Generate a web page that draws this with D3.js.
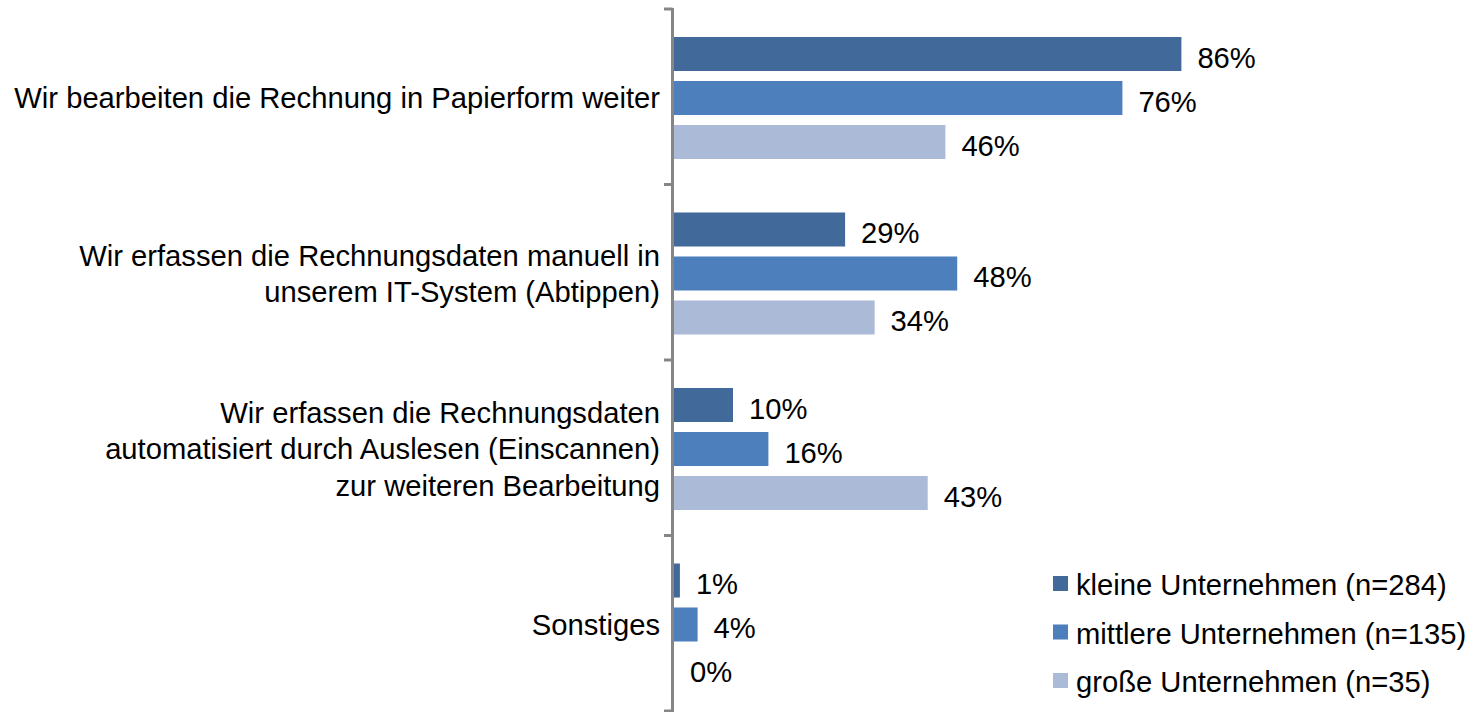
<!DOCTYPE html>
<html><head><meta charset="utf-8">
<script src="https://cdn.jsdelivr.net/npm/d3@7"></script>
<style>body{margin:0;background:#fff}svg{display:block}text{font-family:"Liberation Sans",Arial,sans-serif;fill:#000}</style>
</head><body>
<svg id="c" width="1479" height="712"></svg>
<script>
const categories = [
  ["Wir bearbeiten die Rechnung in Papierform weiter"],
  ["Wir erfassen die Rechnungsdaten manuell in", "unserem IT-System (Abtippen)"],
  ["Wir erfassen die Rechnungsdaten", "automatisiert durch Auslesen (Einscannen)", "zur weiteren Bearbeitung"],
  ["Sonstiges"]
];
const seriesNames = ["kleine Unternehmen (n=284)", "mittlere Unternehmen (n=135)", "große Unternehmen (n=35)"];
const kleine = [86, 29, 10, 1];
const mittlere = [76, 48, 16, 4];
const grosse = [46, 34, 43, 0];
const seriesValues = [kleine, mittlere, grosse];
const colors = ["#41699A", "#4C7FBC", "#AABAD7"];

const svg = d3.select("#c");
const axisX = 672.5;
const x = d3.scaleLinear().domain([0, 100]).range([674, 1264]);
const y = d3.scaleBand().domain(d3.range(categories.length)).range([9, 711]).padding(0);
const ys = d3.scaleBand().domain(d3.range(3)).range([23, 155]).paddingInner(10/44).paddingOuter(5/44);
const FS = 29.2;

// bars
categories.forEach((c, ci) => {
  const g = svg.append("g").attr("transform", `translate(0,${y(ci)})`);
  seriesValues.forEach((vals, si) => {
    const v = vals[ci];
    g.append("rect").attr("x", x(0)).attr("y", ys(si))
      .attr("width", x(v) - x(0)).attr("height", ys.bandwidth()).attr("fill", colors[si]);
    g.append("text").attr("x", x(v) + 16).attr("y", ys(si) + ys.bandwidth()/2 + 3.5)
      .attr("dominant-baseline", "central").style("font-size", FS + "px").text(v + "%");
  });
  // category label
  const lh = 36.5;
  const cy = y(ci) + y.bandwidth()/2 + 1.5;
  const t = svg.append("text").attr("text-anchor", "end").style("font-size", FS + "px");
  c.forEach((line, li) => {
    t.append("tspan").attr("x", 660).attr("y", cy + (li - (c.length - 1)/2) * lh)
      .attr("dominant-baseline", "central").text(line);
  });
});

// axis
svg.append("line").attr("x1", axisX).attr("x2", axisX).attr("y1", 8).attr("y2", 712)
  .attr("stroke", "#868686").attr("stroke-width", 3);
const tickYs = d3.range(categories.length + 1).map(i => i < categories.length ? y(i) : y(categories.length - 1) + y.bandwidth());
tickYs.forEach(ty => {
  svg.append("line").attr("x1", 664).attr("x2", axisX).attr("y1", ty).attr("y2", ty)
    .attr("stroke", "#868686").attr("stroke-width", 3);
});

// legend
const legY = [584, 632.5, 681];
seriesNames.forEach((n, i) => {
  svg.append("rect").attr("x", 1053).attr("y", legY[i] - 8).attr("width", 15).attr("height", 15).attr("fill", colors[i]);
  svg.append("text").attr("x", 1076).attr("y", legY[i] + 1).attr("dominant-baseline", "central")
    .style("font-size", FS + "px").text(n);
});
</script>
</body></html>
